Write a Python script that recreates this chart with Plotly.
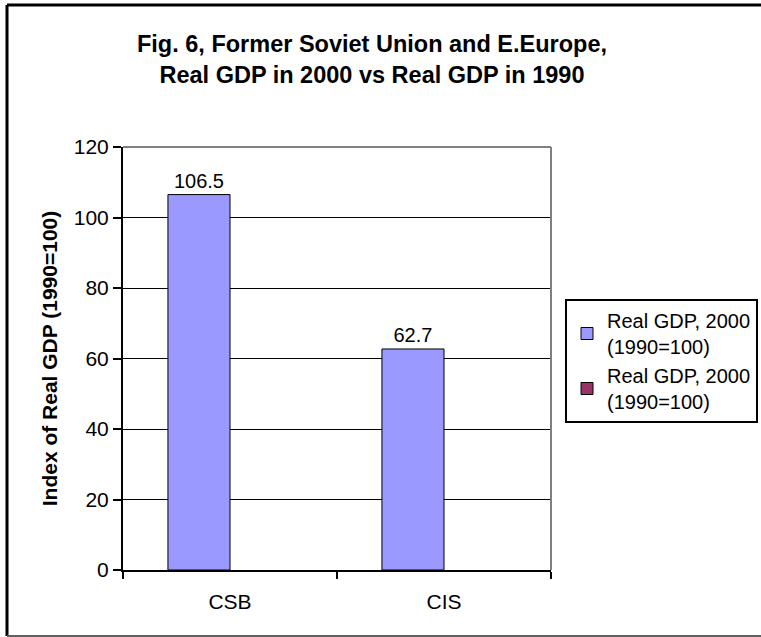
import plotly.graph_objects as go

categories = ['CSB', 'CIS']
gdp_2000 = [106.5, 62.7]
gdp_2000_b = [None, None]
series_names = ['Real GDP, 2000<br>(1990=100)', 'Real GDP, 2000<br>(1990=100)']
y_ticks = [0, 20, 40, 60, 80, 100, 120]

W, H = 761, 637
L, R, T, B = 123, 210, 147, 67
pw, ph = W - L - R, H - T - B


def px_x(v):
    return (v - L) / pw


def px_y(v):
    return (H - B - v) / ph


fig = go.Figure(data=[
    go.Bar(
        name=series_names[0], x=categories, y=gdp_2000,
        marker=dict(color='#9999FF', line=dict(color='black', width=1)),
        text=[f'{v:.1f}' for v in gdp_2000], textposition='outside',
        textfont=dict(family='Arial', size=20, color='black'), cliponaxis=False,
    ),
    go.Bar(
        name=series_names[1], x=categories, y=gdp_2000_b,
        marker=dict(color='#993366', line=dict(color='black', width=1)),
    ),
])

shapes = [
    # plot area top and right border (grey)
    dict(type='line', xref='paper', yref='paper', x0=0, x1=1, y0=1, y1=1,
         line=dict(color='#808080', width=2)),
    dict(type='line', xref='paper', yref='paper', x0=1, x1=1, y0=0, y1=1,
         line=dict(color='#808080', width=2)),
    # chart frame
    dict(type='line', xref='paper', yref='paper', x0=px_x(7), x1=px_x(7), y0=px_y(5), y1=px_y(636),
         line=dict(color='black', width=3)),
    dict(type='line', xref='paper', yref='paper', x0=px_x(7), x1=px_x(770), y0=px_y(5), y1=px_y(5),
         line=dict(color='black', width=3)),
    dict(type='line', xref='paper', yref='paper', x0=px_x(7), x1=px_x(770), y0=px_y(636), y1=px_y(636),
         line=dict(color='#606060', width=2)),
]

fig.update_layout(
    title=dict(
        text='Fig. 6, Former Soviet Union and E.Europe,<br>Real GDP in 2000 vs Real GDP in 1990',
        font=dict(family='Arial', size=23.5, color='black', weight='bold'),
        x=372 / W, xanchor='center', xref='container',
        y=1 - 52 / H, yanchor='middle', yref='container',
    ),
    barmode='group', bargap=0.42, bargroupgap=0,
    xaxis=dict(
        showline=True, linecolor='black', linewidth=2,
        ticks='outside', tickson='boundaries', ticklen=7, tickcolor='black', tickwidth=2,
        tickfont=dict(family='Arial', size=21, color='black'), ticklabelstandoff=12,
        showgrid=False,
    ),
    yaxis=dict(
        range=[0, 120], tickvals=y_ticks,
        showline=True, linecolor='black', linewidth=2,
        ticks='outside', ticklen=8, tickcolor='black', tickwidth=2,
        tickfont=dict(family='Arial', size=21, color='black'),
        showgrid=True, gridcolor='black', gridwidth=1, zeroline=False,
        title=dict(text='Index of Real GDP (1990=100)',
                   font=dict(family='Arial', size=21, color='black', weight='bold'), standoff=10),
    ),
    legend=dict(
        xref='container', yref='container',
        x=565 / W, y=1 - 299 / H, xanchor='left', yanchor='top',
        bordercolor='black', borderwidth=2, bgcolor='white',
        font=dict(family='Arial', size=20, color='black'),
        tracegroupgap=2,
    ),
    shapes=shapes,
    plot_bgcolor='white', paper_bgcolor='white',
    margin=dict(l=L, r=R, t=T, b=B, autoexpand=False),
    width=W, height=H,
    showlegend=True,
)

fig.write_html('out.html', config={'displayModeBar': False},
               post_script="document.body.style.margin='0';document.body.style.overflow='hidden';")
